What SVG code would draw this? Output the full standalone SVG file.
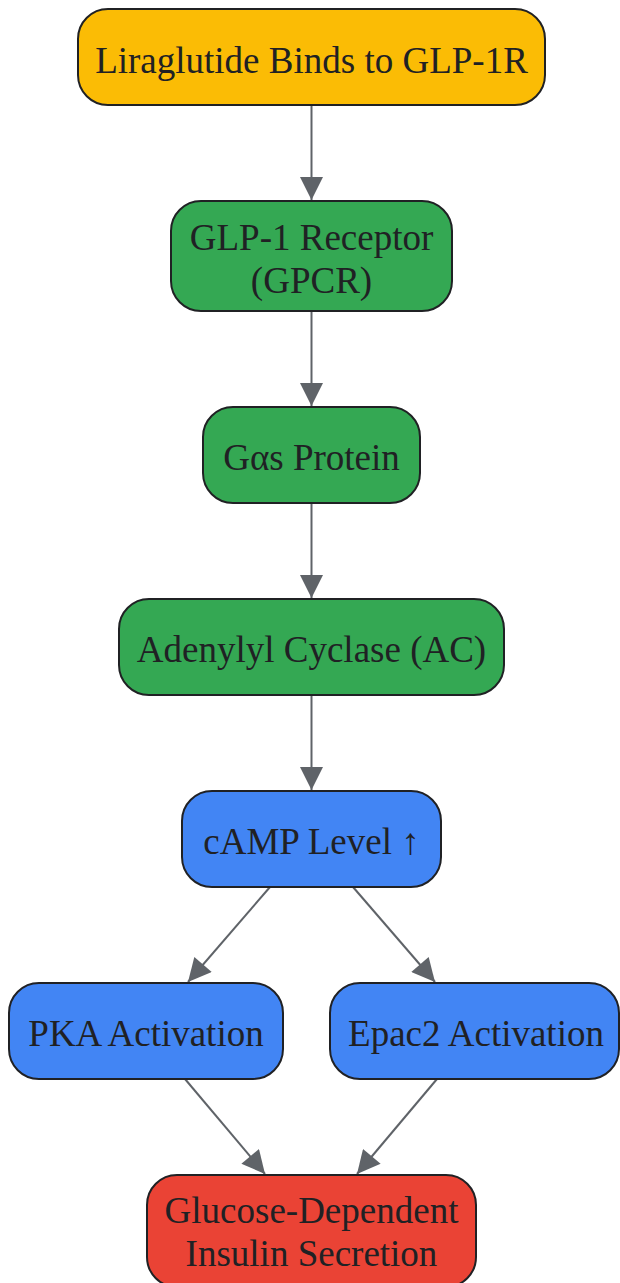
<svg xmlns="http://www.w3.org/2000/svg" width="620" height="1283" viewBox="0 0 620 1283">
<style>
.n{stroke:#202124;stroke-width:2}
.y{fill:#FBBC05}.g{fill:#34A853}.b{fill:#4285F4}.r{fill:#EA4335}
.t{font-family:"Liberation Serif",serif;font-size:37px;fill:#202124;text-anchor:middle}
.e{stroke:#5F6368;stroke-width:2;fill:none;marker-end:url(#ah)}
</style>
<defs>
<marker id="ah" viewBox="0 0 10 10" refX="10" refY="5" markerUnits="userSpaceOnUse" markerWidth="30" markerHeight="23" orient="auto">
<path d="M0,0 L10,5 L0,10 z" fill="#5F6368"/>
</marker>
</defs>
<g id="connectors">
<line class="e" x1="311.5" y1="105" x2="311.5" y2="200"/>
<line class="e" x1="311.5" y1="311" x2="311.5" y2="406"/>
<line class="e" x1="311.5" y1="503" x2="311.5" y2="598"/>
<line class="e" x1="311.5" y1="695" x2="311.5" y2="790"/>
<line class="e" x1="270" y1="887" x2="188" y2="982"/>
<line class="e" x1="353" y1="887" x2="435" y2="982"/>
<line class="e" x1="185" y1="1079" x2="265" y2="1174"/>
<line class="e" x1="437" y1="1079" x2="357" y2="1174"/>
</g>
<g id="n1"><rect class="n y" x="78" y="9" width="467" height="96" rx="30"/><text class="t" x="311.5" y="73">Liraglutide Binds to GLP-1R</text></g>
<g id="n2"><rect class="n g" x="171" y="201" width="281" height="110" rx="30"/><text class="t" x="311.5" y="250">GLP-1 Receptor</text><text class="t" x="311.5" y="293">(GPCR)</text></g>
<g id="n3"><rect class="n g" x="203" y="407" width="217" height="96" rx="30"/><text class="t" x="311.5" y="470">Gαs Protein</text></g>
<g id="n4"><rect class="n g" x="119" y="599" width="385" height="96" rx="30"/><text class="t" x="311.5" y="662">Adenylyl Cyclase (AC)</text></g>
<g id="n5"><rect class="n b" x="182" y="791" width="259" height="96" rx="30"/><text class="t" x="311.5" y="854">cAMP Level ↑</text></g>
<g id="n6"><rect class="n b" x="9" y="983" width="274" height="96" rx="30"/><text class="t" x="146" y="1046">PKA Activation</text></g>
<g id="n7"><rect class="n b" x="330" y="983" width="289" height="96" rx="30"/><text class="t" x="476" y="1046">Epac2 Activation</text></g>
<g id="n8"><rect class="n r" x="147" y="1175" width="329" height="112" rx="30"/><text class="t" x="311.5" y="1223">Glucose-Dependent</text><text class="t" x="311.5" y="1266">Insulin Secretion</text></g>
</svg>
